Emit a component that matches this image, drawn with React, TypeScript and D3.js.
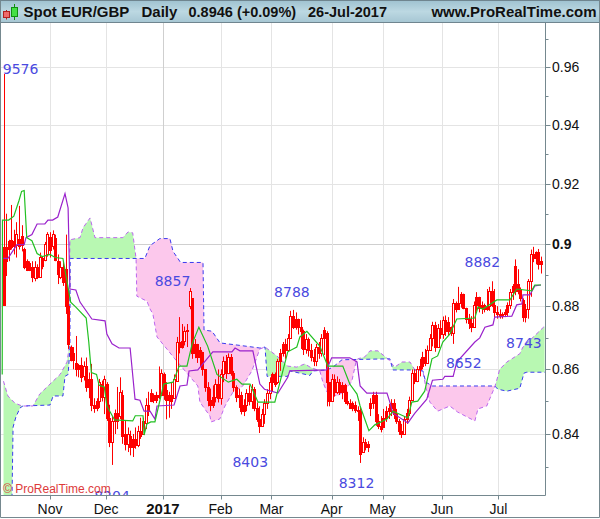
import React from "react";
import * as d3 from "d3";

// Daily candles, in 1/10000 of a GBP
const opens = [
8990,8990,8985,9015,8995,8998,9018,8998,8985,8945,
8918,8925,8890,8925,8895,8930,8950,8970,9025,8995,
9022,8945,8895,8925,8919,8800,8670,8630,8620,8600,
8612,8578,8610,8545,8570,8490,8480,8500,8555,8515,
8555,8450,8375,8440,8465,8455,8520,8400,8370,8395,
8360,8385,8365,8410,8400,8435,8490,8500,8520,8505,
8520,8520,8585,8535,8505,8520,8510,8565,8685,8670,
8690,8720,8800,8825,8650,8680,8640,8655,8600,8545,
8505,8490,8515,8555,8510,8585,8625,8590,8640,8590,
8545,8515,8520,8470,8490,8525,8500,8540,8480,8445,
8425,8460,8495,8525,8560,8585,8560,8625,8650,8680,
8660,8700,8770,8735,8760,8735,8720,8665,8695,8660,
8640,8625,8670,8650,8700,8715,8560,8500,8570,8530,
8560,8530,8550,8500,8495,8480,8490,8475,8470,8345,
8375,8360,8480,8495,8520,8440,8425,8420,8450,8470,
8480,8495,8460,8440,8410,8400,8445,8465,8505,8590,
8565,8600,8610,8640,8620,8660,8700,8740,8670,8730,
8710,8755,8720,8735,8715,8810,8790,8810,8840,8795,
8760,8745,8735,8805,8830,8795,8805,8790,8800,8850,
8805,8780,8775,8770,8775,8780,8805,8845,8930,8850,
8855,8820,8765,8790,8880,8970,8955,8975,8935];
const closes = [
8805,8945,9012,8990,9012,9035,8995,9028,8925,8918,
8940,8895,8925,8895,8960,8955,9000,9034,8980,9035,
8950,8903,8925,8877,8800,8680,8630,8650,8600,8612,
8575,8610,8545,8570,8490,8480,8500,8560,8515,8570,
8450,8375,8440,8465,8440,8530,8395,8370,8400,8360,
8385,8365,8410,8395,8440,8490,8470,8525,8505,8520,
8515,8590,8520,8505,8520,8500,8570,8685,8670,8690,
8720,8725,8850,8650,8680,8640,8660,8600,8545,8505,
8490,8515,8555,8510,8585,8625,8590,8640,8590,8545,
8515,8520,8470,8490,8525,8500,8540,8480,8445,8425,
8460,8495,8525,8560,8585,8555,8625,8650,8680,8660,
8700,8770,8735,8760,8735,8720,8665,8695,8660,8640,
8625,8670,8650,8700,8725,8560,8500,8570,8530,8560,
8530,8550,8500,8495,8480,8495,8475,8470,8340,8375,
8360,8370,8495,8520,8440,8425,8415,8450,8470,8480,
8495,8460,8440,8410,8400,8445,8465,8505,8590,8565,
8600,8610,8640,8620,8660,8700,8740,8670,8730,8710,
8755,8720,8750,8715,8810,8790,8810,8840,8795,8760,
8745,8735,8805,8830,8795,8805,8790,8800,8850,8805,
8780,8775,8770,8775,8780,8805,8845,8865,8850,8870,
8825,8765,8790,8880,8970,8955,8975,8935,8946];
const highs = [
9576,9101,9015,9130,9048,9073,9127,9063,8989,8951,
8945,8945,8945,8935,8973,8960,9008,9040,9040,9046,
9032,8967,8945,8945,9032,8855,8675,8670,8705,8617,
8637,8625,8637,8590,8617,8510,8510,8570,8565,8580,
8560,8490,8455,8475,8545,8575,8535,8440,8420,8410,
8400,8420,8425,8450,8450,8510,8530,8538,8525,8530,
8609,8600,8590,8560,8530,8560,8584,8702,8765,8743,
8735,8743,8858,8825,8695,8680,8670,8655,8600,8560,
8540,8550,8569,8600,8600,8640,8645,8650,8648,8595,
8550,8540,8530,8507,8538,8550,8554,8545,8497,8485,
8477,8507,8538,8575,8590,8590,8633,8664,8686,8696,
8711,8785,8788,8780,8760,8760,8725,8711,8700,8680,
8664,8680,8686,8711,8733,8720,8560,8585,8584,8578,
8570,8560,8555,8530,8507,8500,8500,8485,8482,8390,
8385,8378,8510,8530,8530,8461,8455,8477,8485,8492,
8507,8507,8477,8446,8431,8455,8477,8515,8600,8600,
8610,8633,8655,8664,8675,8711,8750,8750,8743,8755,
8767,8770,8765,8735,8823,8815,8862,8845,8840,8795,
8775,8768,8815,8845,8830,8815,8808,8855,8862,8880,
8855,8800,8790,8780,8790,8812,8855,8871,8951,8919,
8860,8825,8807,8887,8983,8992,8977,8985,8960];
const lows = [
8805,8897,8945,8983,8967,8957,8983,8977,8919,8913,
8913,8877,8880,8887,8893,8919,8945,8960,8957,8983,
8945,8871,8887,8865,8775,8664,8625,8600,8578,8575,
8560,8565,8530,8510,8470,8465,8470,8480,8500,8461,
8440,8360,8306,8400,8415,8446,8370,8350,8345,8335,
8330,8355,8360,8385,8398,8415,8455,8498,8495,8495,
8507,8517,8505,8445,8450,8477,8530,8590,8650,8665,
8675,8670,8790,8633,8635,8620,8610,8580,8530,8485,
8470,8480,8497,8497,8490,8560,8570,8585,8580,8530,
8498,8480,8460,8455,8470,8488,8477,8470,8437,8403,
8425,8431,8477,8507,8530,8545,8554,8595,8640,8633,
8655,8696,8727,8725,8710,8664,8645,8649,8640,8625,
8610,8610,8633,8640,8645,8485,8485,8505,8515,8523,
8520,8507,8492,8488,8477,8470,8465,8440,8312,8345,
8350,8345,8455,8477,8425,8415,8405,8420,8437,8446,
8455,8446,8431,8397,8388,8397,8431,8455,8507,8554,
8560,8578,8600,8610,8622,8664,8672,8655,8680,8696,
8696,8705,8705,8705,8680,8780,8790,8795,8790,8745,
8727,8717,8752,8785,8780,8775,8780,8785,8785,8797,
8765,8760,8760,8760,8765,8768,8791,8820,8835,8838,
8815,8750,8748,8760,8830,8942,8935,8918,8905];

// Ichimoku lines as [trading-day index, value]
const tenkan: [number, number][] = [[-0.5,8584],[-0.4,9080],[2,9080],[4,9093],[6,9145],[7,9175],[8,9178],[9,9022],[11,9012],[13,8970],[15,8960],[18,8967],[20,8957],[23,8954],[26,8813],[28,8797],[32,8762],[33,8686],[34,8590],[36,8584],[37,8550],[39,8545],[40,8486],[43,8443],[50,8440],[51,8456],[54,8456],[54.4,8397],[55.5,8431],[57,8437],[58.6,8437],[62,8554],[65.6,8560],[68,8610],[71,8610],[73,8680],[75.6,8733],[79,8673],[82.6,8584],[87,8560],[90.3,8569],[92.3,8554],[95.4,8554],[98.5,8498],[105,8498],[110,8655],[113.5,8670],[114.7,8702],[117.4,8720],[122.4,8673],[125.5,8610],[131.3,8610],[134,8554],[136.8,8523],[138,8486],[141.4,8410],[143.7,8428],[148.4,8446],[150.7,8470],[156.5,8449],[158,8498],[160.3,8501],[163,8532],[165.8,8633],[168,8642],[170,8686],[172.7,8711],[175.4,8759],[182.4,8762],[183.6,8797],[185.5,8791],[190.9,8820],[196,8820],[198.6,8855],[204.4,8849],[205.6,8868],[208,8868]];
const kijun: [number, number][] = [[0,8954],[1.7,8954],[5.2,8999],[8,8999],[8.7,9022],[11,9032],[13,9067],[16,9067],[17.2,9080],[19,9080],[21,9090],[23.8,9168],[25,9120],[25.7,8855],[28,8852],[29.6,8813],[34.2,8759],[39.3,8753],[40,8711],[42,8680],[44.7,8667],[49,8667],[50.9,8507],[52.8,8504],[54.4,8470],[56.7,8470],[58.6,8446],[59.4,8486],[66,8489],[68.3,8548],[71,8551],[71.8,8595],[75.2,8598],[81,8655],[88.4,8655],[89.6,8667],[91.5,8658],[96.5,8658],[99.2,8554],[101,8538],[106.2,8526],[110,8575],[110.8,8595],[125,8598],[127,8636],[134,8636],[136.8,8623],[138,8548],[140.6,8526],[148.4,8526],[149.5,8498],[150.7,8464],[156.5,8434],[159.2,8464],[163.8,8507],[166,8566],[170,8569],[170.8,8578],[174,8578],[175.4,8623],[182.4,8686],[184.3,8699],[186.3,8733],[189.4,8740],[190.1,8765],[196.7,8768],[198.6,8804],[200.6,8807],[201,8836],[203.7,8836],[205.6,8865],[208,8868]];
const spanA: [number, number][] = [[0,8563],[1.7,8517],[4.4,8495],[7.2,8486],[11.4,8486],[14,8523],[18,8554],[21.9,8584],[24.6,8623],[25.3,8664],[25.7,9015],[29.6,9022],[30.8,9055],[33.5,9087],[35.4,9022],[46.2,9022],[48.2,9041],[50,9038],[51.3,8954],[51.6,8832],[55.5,8816],[56.7,8791],[57.8,8775],[59.4,8702],[63.2,8664],[66.3,8633],[75.2,8548],[76,8498],[79.9,8455],[80.3,8437],[83.7,8446],[85.7,8486],[88.8,8529],[92.6,8548],[96.1,8595],[99.2,8664],[101.2,8670],[105.8,8642],[110,8610],[113.5,8607],[116.6,8617],[118.6,8607],[122.4,8595],[123.6,8560],[125.2,8529],[129,8517],[132,8532],[134.8,8563],[136.4,8623],[137.1,8633],[139.8,8639],[141.8,8658],[144.9,8658],[148.7,8633],[151.4,8607],[154.2,8623],[157.3,8623],[159.2,8598],[162.3,8595],[163.4,8545],[165,8498],[168,8470],[172.7,8486],[175.8,8467],[182.4,8440],[183.6,8477],[187,8486],[190.1,8545],[191.3,8578],[192,8600],[194.8,8623],[199.8,8649],[201,8670],[209.5,8737]];
const spanB: [number, number][] = [[0,8150],[3.3,8210],[3.7,8421],[4.8,8452],[6.4,8480],[7.5,8486],[18,8489],[19.2,8517],[23,8517],[23.8,8578],[25,8584],[25.7,8664],[25.8,8954],[54.7,8954],[56.7,8996],[60.5,9019],[64.4,9019],[65.6,8977],[67.5,8954],[68.5,8941],[77.2,8941],[77.6,8724],[80.7,8720],[83.8,8683],[90.7,8676],[99.2,8667],[101.2,8670],[102,8578],[110,8578],[110.8,8595],[118.6,8581],[119.7,8595],[125.2,8598],[127.5,8607],[131,8630],[149.5,8633],[150.7,8598],[159.2,8598],[162.3,8595],[163.4,8560],[166,8548],[190.1,8548],[191.3,8538],[194.8,8532],[199.8,8541],[201.4,8588],[202.5,8591],[209.5,8591]];

const priceTicks = [0.96, 0.94, 0.92, 0.9, 0.88, 0.86, 0.84];
const minorTicks = [0.97, 0.95, 0.93, 0.91, 0.89, 0.87, 0.85, 0.83];
const monthLabels = ["Nov", "Dec", "2017", "Feb", "Mar", "Apr", "May", "Jun", "Jul"];
const monthDays = [18, 39.7, 61.7, 84, 103.7, 127, 146.7, 169.7, 191.5];

const noteTexts = ["9576", "8857", "8788", "8403", "8312", "8882", "8652", "8743", "8204"];
const noteDays = [6.6, 65.4, 111.6, 95.5, 136.6, 185.3, 178.1, 201.4, 42];
const notePrices = [0.9577, 0.8865, 0.883, 0.83, 0.8236, 0.8927, 0.8605, 0.8667, 0.8197];

const headerLeft = "Spot EUR/GBP";
const headerMode = "Daily";
const headerQuote = "0.8946 (+0.09%)";
const headerDate = "26-Jul-2017";
const headerSite = "www.ProRealTime.com";

const W = 600;
const H = 519;
const plotL = 1;
const plotT = 23;
const plotR = 545.5;
const plotB = 495.5;
const SANS = "'Liberation Sans', Arial, sans-serif";

const x = d3.scaleLinear().domain([0, 208]).range([3.5, 541]);
const y = d3.scaleLog().domain([0.84, 0.96]).range([434, 67]);
const yp = (p: number) => y(p / 10000);

const linePath = d3
  .line<[number, number]>()
  .x((d) => x(d[0]))
  .y((d) => yp(d[1]));

const lerp = (pts: [number, number][]) =>
  d3.scaleLinear().domain(pts.map((p) => p[0])).range(pts.map((p) => p[1])).clamp(true);
const aAt = lerp(spanA);
const bAt = lerp(spanB);
const cloudDays = d3.range(0, 209.5, 0.1);
const cloud = (keep: (d: number) => boolean) =>
  d3
    .area<number>()
    .defined(keep)
    .x((d) => x(d))
    .y0((d) => yp(bAt(d)))
    .y1((d) => yp(aAt(d)))(cloudDays) || "";
const greenCloud = cloud((d) => aAt(d) >= bAt(d));
const pinkCloud = cloud((d) => aAt(d) < bAt(d));

export default function App() {
  return (
    <svg
      width={W}
      height={H}
      viewBox={`0 0 ${W} ${H}`}
      style={{ position: "fixed", left: 0, top: 0, background: "#fff", display: "block" }}
    >
      <defs>
        <linearGradient id="hdr" x1="0" y1="0" x2="0" y2="1">
          <stop offset="0" stopColor="#9fc2d0" />
          <stop offset="0.5" stopColor="#bcd8e2" />
          <stop offset="1" stopColor="#a6c6d3" />
        </linearGradient>
        <clipPath id="plot">
          <rect x={plotL} y={plotT} width={plotR - plotL} height={plotB - plotT} />
        </clipPath>
      </defs>

      {/* grid */}
      {priceTicks.map((t) => (
        <line key={t} x1={plotL} x2={plotR} y1={Math.round(y(t)) + 0.5} y2={Math.round(y(t)) + 0.5}
          stroke={t === 0.9 ? "#cfcfcf" : "#e4e4e4"} />
      ))}
      {monthDays.map((d, i) => (
        <line key={d} x1={Math.round(x(d)) + 0.5} x2={Math.round(x(d)) + 0.5} y1={plotT} y2={plotB}
          stroke={monthLabels[i] === "2017" ? "#cfcfcf" : "#e4e4e4"} />
      ))}

      <g clipPath="url(#plot)">
        <path d={greenCloud} fill="#b8f8b2" />
        <path d={pinkCloud} fill="#fcc8ec" />
        <path d={linePath(spanA) || ""} fill="none" stroke="#bb66ee" strokeWidth={1} strokeDasharray="4 3" />
        <path d={linePath(spanB) || ""} fill="none" stroke="#3a3aee" strokeWidth={1} strokeDasharray="4 3" />

        {opens.map((o, i) => {
          const c = closes[i];
          const cx = Math.round(x(i));
          const top = Math.round(yp(Math.max(o, c)));
          const bot = Math.round(yp(Math.min(o, c)));
          const hollow = c >= o && bot - top >= 10;
          return (
            <g key={i}>
              <line x1={cx + 0.5} x2={cx + 0.5} y1={yp(highs[i])} y2={yp(lows[i])} stroke="#ff0000" />
              <rect x={cx - 0.5} y={top + 0.5} width={2} height={Math.max(bot - top, 1)}
                fill={hollow ? "#ffffff" : "#ff0000"} stroke="#ff0000" />
            </g>
          );
        })}

        <path d={linePath(kijun) || ""} fill="none" stroke="#9a22cc" strokeWidth={1.2} />
        <path d={linePath(tenkan) || ""} fill="none" stroke="#22c022" strokeWidth={1.2} />

        {noteTexts.map((t, i) => (
          <text key={t} x={x(noteDays[i])} y={y(notePrices[i])} textAnchor="middle"
            fontFamily="'DejaVu Sans', sans-serif" fontSize={14} fill="#4a4ae0">
            {t}
          </text>
        ))}
        <text x={3} y={493} fontFamily={SANS} fontSize={12} fill="#dd3a3a">© ProRealTime.com</text>
      </g>

      {/* axes */}
      <line x1={plotR} x2={plotR} y1={plotT} y2={plotB} stroke="#75888f" />
      <line x1={plotL} x2={plotR} y1={plotB} y2={plotB} stroke="#75888f" />
      {priceTicks.map((t) => (
        <g key={t}>
          <line x1={plotR} x2={plotR + 5} y1={Math.round(y(t)) + 0.5} y2={Math.round(y(t)) + 0.5} stroke="#75888f" />
          <text x={552} y={y(t) + 5} fontFamily={SANS} fontSize={14} fontWeight={t === 0.9 ? 700 : 400} fill="#111">
            {t === 0.9 ? "0.9" : t.toFixed(2)}
          </text>
        </g>
      ))}
      {minorTicks.map((t) => (
        <line key={t} x1={plotR} x2={plotR + 3} y1={Math.round(y(t)) + 0.5} y2={Math.round(y(t)) + 0.5} stroke="#75888f" />
      ))}
      {monthDays.map((d, i) => (
        <g key={d}>
          <line x1={Math.round(x(d)) + 0.5} x2={Math.round(x(d)) + 0.5} y1={plotB} y2={plotB + 4} stroke="#75888f" />
          <text x={x(d)} y={514} textAnchor="middle" fontFamily={SANS}
            fontSize={monthLabels[i] === "2017" ? 15 : 14} fontWeight={monthLabels[i] === "2017" ? 700 : 400} fill="#111">
            {monthLabels[i]}
          </text>
        </g>
      ))}

      {/* header */}
      <rect x={0.5} y={0.5} width={W - 1} height={22} fill="url(#hdr)" stroke="#6f858f" />
      <line x1={6.5} x2={6.5} y1={10} y2={19.5} stroke="#b02020" />
      <rect x={3.5} y={11.5} width={6} height={6} fill="#ee6a6a" stroke="#b02020" />
      <line x1={14.5} x2={14.5} y1={4} y2={20} stroke="#109010" />
      <rect x={11.5} y={7.5} width={6} height={9} fill="#44e044" stroke="#109010" />
      <g fontFamily={SANS} fontWeight={700} fontSize={15} fill="#111">
        <text x={23.5} y={17}>{headerLeft}</text>
        <text x={141.5} y={17}>{headerMode}</text>
        <text x={188.5} y={17} fontSize={14.5}>{headerQuote}</text>
        <text x={308} y={17} fontSize={14.5}>{headerDate}</text>
        <text x={596.5} y={17} textAnchor="end">{headerSite}</text>
      </g>

      {/* outer frame */}
      <path d={`M0.5 0.5V${H - 1.5}H${W - 0.5}V0.5`} fill="none" stroke="#75888f" />
    </svg>
  );
}
